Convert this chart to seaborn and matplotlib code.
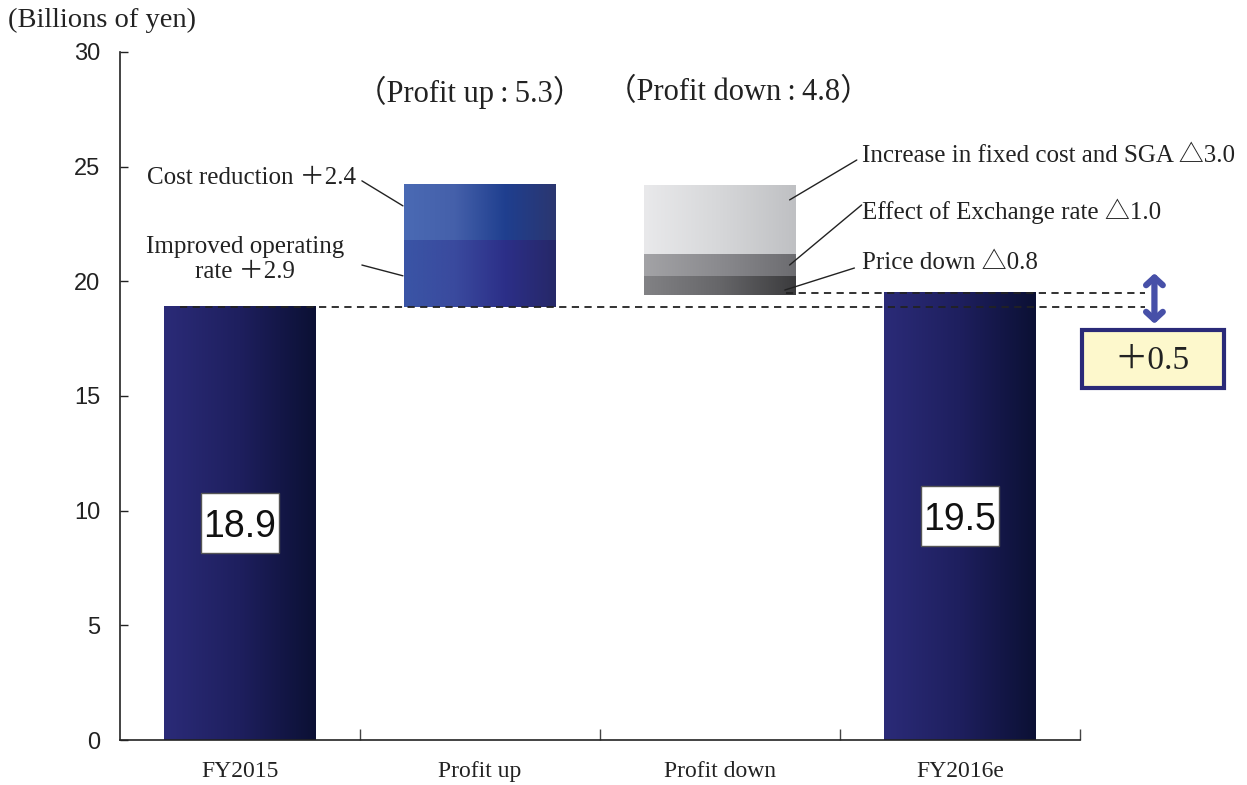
import numpy as np
import pandas as pd
import matplotlib
matplotlib.use("Agg")
import matplotlib.pyplot as plt
from matplotlib.colors import LinearSegmentedColormap
from matplotlib.patches import Rectangle
import seaborn as sns

# ---- data (billions of yen) ----
categories = ["FY2015", "Profit up", "Profit down", "FY2016e"]
fy2015_value = 18.9
fy2016e_value = 19.5
up_labels = ["Improved operating\nrate", "Cost reduction"]
up_values = [2.9, 2.4]
down_labels = ["Increase in fixed cost and SGA", "Effect of Exchange rate", "Price down"]
down_values = [3.0, 1.0, 0.8]
y_ticks = [0, 5, 10, 15, 20, 25, 30]

sns.set_style("white")
SERIF = ["Liberation Serif", "Noto Sans CJK JP", "DejaVu Sans"]
SANS = ["Liberation Sans", "DejaVu Sans"]
plt.rcParams["font.family"] = SERIF

fig = plt.figure(figsize=(12.47, 7.85), dpi=100)
ax = fig.add_axes([0.0962, 0.0573, 0.7699, 0.8765])

BAR_W = 0.63
navy = ["#2b2b78", "#1e1f5e", "#0b1034"]
blue_low = ["#3a55a6", "#3a4a9e", "#2c2f88", "#262868"]
blue_high = ["#4a6ab4", "#4560aa", "#1f3f8f", "#2b3670"]
grey_high = ["#e9e9eb", "#d6d7d9", "#bfc0c3"]
grey_mid = ["#a3a3a6", "#8a8a8e", "#6c6c70"]
grey_low = ["#828285", "#666669", "#3b3b3d"]


def draw_segment(cat, height, bottom, stops):
    sns.barplot(x=[cat], y=[height], order=categories, width=BAR_W,
                color=stops[0], errorbar=None, bottom=bottom, ax=ax,
                linewidth=0, zorder=2)
    patch = ax.patches[-1]
    x0, y0 = patch.get_x(), patch.get_y()
    w, h = patch.get_width(), patch.get_height()
    cmap = LinearSegmentedColormap.from_list("grad", stops)
    grad = np.linspace(0, 1, 256).reshape(1, -1)
    ax.imshow(grad, cmap=cmap, extent=[x0, x0 + w, y0, y0 + h],
              aspect="auto", interpolation="bilinear", zorder=2.5)
    return patch


# start / end totals
draw_segment(categories[0], fy2015_value, 0, navy)
draw_segment(categories[3], fy2016e_value, 0, navy)

# profit up segments stacked upward
base = fy2015_value
for val, stops in zip(up_values, [blue_low, blue_high]):
    draw_segment(categories[1], val, base, stops)
    base += val

# profit down segments stacked downward from the peak
top = fy2015_value + sum(up_values)
for val, stops in zip(down_values, [grey_high, grey_mid, grey_low]):
    draw_segment(categories[2], val, top - val, stops)
    top -= val

# dashed reference lines
ax.plot([-0.25, 3.77], [fy2015_value, fy2015_value], ls=(0, (4, 3)),
        color="#222222", lw=1.3, zorder=4, clip_on=False)
ax.plot([2.275, 3.77], [fy2016e_value, fy2016e_value], ls=(0, (4, 3)),
        color="#222222", lw=1.3, zorder=4, clip_on=False)

# value boxes on the total bars
for i, v in [(0, fy2015_value), (3, fy2016e_value)]:
    ax.add_patch(Rectangle((i - 0.1625, v / 2 - 1.31), 0.325, 2.62,
                           fc="white", ec="#555555", lw=1, zorder=5))
    ax.text(i, v / 2, f"{v:.1f}", ha="center", va="center_baseline", fontsize=27,
            family=SANS, color="#111111", zorder=6)

# group headers
up_total = sum(up_values)
down_total = sum(down_values)
ax.text(0.958, 28.25, f"（Profit up\u2009:\u2009{up_total:.1f}）", ha="center",
        va="center", fontsize=22, color="#222222")
ax.text(2.075, 28.25, f"（Profit down\u2009:\u2009{down_total:.1f}）", ha="center",
        va="center", fontsize=22, color="#222222")

# profit-up labels with leader lines
lc = "#222222"
ax.text(0.483, 24.5, f"{up_labels[1]} ＋{up_values[1]:.1f}", ha="right", va="center",
        fontsize=18, color=lc)
ax.plot([0.508, 0.679], [24.38, 23.29], color=lc, lw=1, zorder=4)
ax.text(0.02, 20.95, f"{up_labels[0]} ＋{up_values[0]:.1f}", ha="center", va="center",
        fontsize=18, color=lc, multialignment="center", linespacing=1.2)
ax.plot([0.508, 0.679], [20.71, 20.24], color=lc, lw=1, zorder=4)

# profit-down labels with leader lines
down_text_y = [25.45, 23.05, 20.8]
down_line = [([2.29, 2.57], [23.55, 25.29]),
             ([2.29, 2.59], [20.71, 23.33]),
             ([2.27, 2.56], [19.62, 20.58])]
for lab, val, ty, (lx, ly) in zip(down_labels, down_values, down_text_y, down_line):
    ax.text(2.59, ty, f"{lab} △{val:.1f}", ha="left", va="center",
            fontsize=18, color=lc)
    ax.plot(lx, ly, color=lc, lw=1, zorder=4)

# net change arrow and box
ax.annotate("", xy=(3.81, 20.35), xytext=(3.81, 18.15),
            arrowprops=dict(arrowstyle="<->,head_length=0.55,head_width=0.6",
                            color="#4750a8", lw=4.5, shrinkA=0, shrinkB=0),
            annotation_clip=False)
ax.add_patch(Rectangle((3.508, 15.35), 0.592, 2.53, fc="#fdf8cc", ec="#2a2a78",
                       lw=3, zorder=5, clip_on=False))
ax.text(3.80, 16.55, f"＋{up_total - down_total:.1f}", ha="center", va="center",
        fontsize=24, color="#222222", clip_on=False, zorder=6)

# axes styling
ax.set_xlim(-0.5, 3.5)
ax.set_ylim(0, 30)
ax.set_yticks(y_ticks)
ax.set_yticklabels([str(t) for t in y_ticks], family=SANS, fontsize=17)
ax.set_xticks(range(len(categories)))
ax.set_xticklabels(categories, fontsize=17)
ax.set_xticks([0.5, 1.5, 2.5, 3.5], minor=True)
ax.tick_params(axis="x", which="major", bottom=False, length=0, pad=15, colors="#222222")
ax.tick_params(axis="x", which="minor", bottom=True, direction="in", length=8,
               width=1, color="#444444")
ax.tick_params(axis="y", direction="in", length=6, width=1, pad=14, colors="#222222",
               left=True)
ax.set_xlabel("")
ax.set_ylabel("")
for side in ["top", "right"]:
    ax.spines[side].set_visible(False)
for side in ["left", "bottom"]:
    ax.spines[side].set_color("#222222")
    ax.spines[side].set_linewidth(1.2)

fig.text(0.0064, 0.9745, "(Billions of yen)", ha="left", va="center",
         fontsize=20.5, color="#222222")

fig.savefig("out.png", dpi=100)
